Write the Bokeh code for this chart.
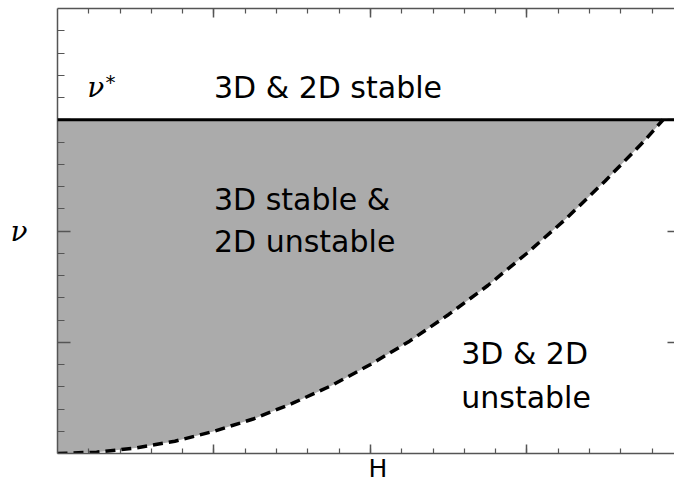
from bokeh.plotting import figure
from bokeh.models import Label, Span, LinearAxis, FixedTicker, Range1d
from bokeh.embed import file_html
from bokeh.resources import INLINE

# Data
curve_h = [0.0, 0.25, 0.5, 0.75, 1.0, 1.25, 1.5, 1.75, 2.0, 2.25, 2.5, 2.75, 3.0, 3.25, 3.5, 3.75, 3.87]
curve_nu = [0.0, 0.012, 0.05, 0.11, 0.2, 0.31, 0.45, 0.61, 0.8, 1.01, 1.25, 1.51, 1.8, 2.11, 2.45, 2.81, 3.0]
nu_star = 3.0
x_major = [1, 2, 3]
y_major = [1, 2, 3]
x_minor = [0.2 * i for i in range(1, 20)]
y_minor = [0.2 * i for i in range(1, 20)]

FONT = "DejaVu Sans"
FS = "30px"
AX_COL = "#555555"

p = figure(width=674, height=487, output_backend="svg", toolbar_location=None,
           x_range=Range1d(0, 3.943), y_range=Range1d(0, 4.0),
           min_border_left=57, min_border_right=0, min_border_top=8, min_border_bottom=34)
p.xgrid.visible = False
p.ygrid.visible = False
p.outline_line_color = None
p.background_fill_color = "white"

# filled region
p.varea(x=curve_h, y1=curve_nu, y2=[nu_star] * len(curve_h), fill_color="#ababab")
p.line(curve_h, curve_nu, line_color="black", line_width=3.5, line_dash="10 6")
p.add_layout(Span(location=nu_star, dimension="width", line_color="black", line_width=3))

def style_axis(ax, major_in, minor_in):
    ax.major_label_text_font_size = "0px"
    ax.major_label_text_alpha = 0
    ax.major_label_standoff = 0
    ax.major_tick_out = 0
    ax.major_tick_in = major_in
    ax.minor_tick_out = 0
    ax.minor_tick_in = minor_in
    ax.axis_line_color = AX_COL
    ax.axis_line_width = 1.5
    ax.major_tick_line_color = AX_COL
    ax.minor_tick_line_color = AX_COL
    ax.major_tick_line_width = 1.5
    ax.minor_tick_line_width = 1.2

xt = FixedTicker(ticks=x_major, minor_ticks=x_minor)
yt = FixedTicker(ticks=y_major, minor_ticks=y_minor)

p.xaxis.ticker = xt
p.yaxis.ticker = yt
style_axis(p.xaxis[0], 9, 5)
style_axis(p.yaxis[0], 13, 7)

xa = p.xaxis[0]
xa.axis_label = "\u00a0\u00a0\u00a0H"
xa.axis_label_text_font = FONT
xa.axis_label_text_font_size = "25px"
xa.axis_label_text_font_style = "normal"
xa.axis_label_text_color = "black"
xa.axis_label_standoff = 0

ya = p.yaxis[0]
ya.axis_label = "\u03bd"
ya.axis_label_orientation = "horizontal"
ya.axis_label_text_font = "DejaVu Serif"
ya.axis_label_text_font_size = "28px"
ya.axis_label_text_font_style = "italic"
ya.axis_label_text_color = "black"
ya.axis_label_standoff = 30

top = LinearAxis(ticker=xt)
style_axis(top, 9, 5)
p.add_layout(top, "above")
right = LinearAxis(ticker=yt)
style_axis(right, 7, 0)
right.axis_line_color = None
p.add_layout(right, "right")

def lab(x, y, t, size=FS, font=FONT, style="normal"):
    p.add_layout(Label(x=x, y=y, text=t, text_font=font, text_font_size=size,
                       text_font_style=style, text_color="black",
                       text_baseline="alphabetic", text_align="left"))

lab(1.0, 3.29, "3D & 2D stable")
lab(1.0, 2.28, "3D stable &")
lab(1.0, 1.906, "2D unstable")
lab(2.58, 0.899, "3D & 2D")
lab(2.58, 0.503, "unstable")
lab(0.19, 3.294, "\u03bd", size="28px", font="DejaVu Serif", style="italic")
lab(0.307, 3.335, "*", size="20px", font="DejaVu Sans")

open("out.html", "w").write(file_html(p, INLINE))
